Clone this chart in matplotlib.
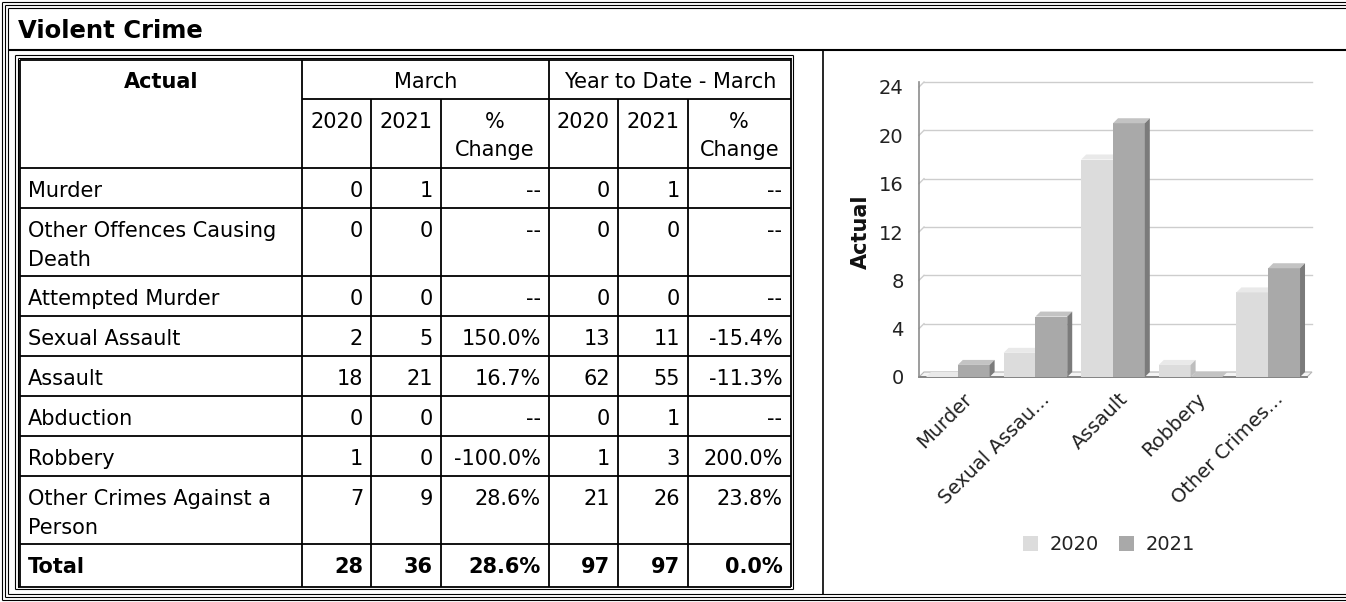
import numpy as np
import matplotlib.pyplot as plt
from matplotlib.patches import Polygon, Patch
from matplotlib.transforms import ScaledTranslation

plt.rcParams['font.family'] = ['DejaVu Sans']

# ---- data ----
title = "Violent Crime"
offences = ["Murder", "Other Offences Causing\nDeath", "Attempted Murder", "Sexual Assault",
            "Assault", "Abduction", "Robbery", "Other Crimes Against a\nPerson"]
march_2020 = [0, 0, 0, 2, 18, 0, 1, 7]
march_2021 = [1, 0, 0, 5, 21, 0, 0, 9]
march_change = ["--", "--", "--", "150.0%", "16.7%", "--", "-100.0%", "28.6%"]
ytd_2020 = [0, 0, 0, 13, 62, 0, 1, 21]
ytd_2021 = [1, 0, 0, 11, 55, 1, 3, 26]
ytd_change = ["--", "--", "--", "-15.4%", "-11.3%", "--", "200.0%", "23.8%"]
total_change = ["28.6%", "0.0%"]

chart_labels = ["Murder", "Sexual Assau...", "Assault", "Robbery", "Other Crimes..."]
chart_2020 = [0, 2, 18, 1, 7]
chart_2021 = [1, 5, 21, 0, 9]
years = ["2020", "2021"]

# ---- figure / background layer in pixel coords ----
W, H = 1346, 602
fig = plt.figure(figsize=(W / 100, H / 100), dpi=100)
bg = fig.add_axes([0, 0, 1, 1])
bg.set_xlim(0, W)
bg.set_ylim(H, 0)
bg.axis('off')


def hline(y, x0, x1, lw=0.8, c='black'):
    bg.plot([x0, x1], [y, y], color=c, lw=lw, solid_capstyle='butt')


def vline(x, y0, y1, lw=0.8, c='black'):
    bg.plot([x, x], [y0, y1], color=c, lw=lw, solid_capstyle='butt')


# panel frame
hline(1.5, 1.5, W); hline(4.5, 4.5, W); hline(7.5, 7.5, W)
vline(1.5, 1.5, 599.5); vline(4.5, 4.5, 596.5); vline(7.5, 7.5, 593.5)
hline(50, 7.5, W, lw=1.5)
hline(593.5, 7.5, W); hline(596.5, 4.5, W); hline(599.5, 1.5, W)
vline(823, 50, 593.5, lw=1.2)
bg.text(18, 38, title, fontsize=17.5, fontweight='bold', va='baseline', ha='left')

# table frame
cols = [20, 302, 371, 441, 549, 618, 688, 790.5]
gw = 1.3
hline(55, 15, 793); hline(57.5, 17.5, 790.5); hline(60, 20, 790.5, lw=gw)
hline(589, 15, 793); hline(586.5, 17.5, 790.5, lw=gw)
vline(15, 55, 589); vline(17.5, 57.5, 586.5); vline(20, 60, 586.5, lw=gw)
vline(793, 55, 589); vline(790.5, 57.5, 586.5, lw=gw)

fs = 15
line_h = 28.5

# header
hline(99, 302, 790.5, lw=gw)
vline(302, 60, 586.5, lw=gw); vline(549, 60, 586.5, lw=gw)
for cx in [371, 441, 618, 688]:
    vline(cx, 99, 586.5, lw=gw)
bg.text((20 + 302) / 2, 60 + 27.5, "Actual", fontsize=fs, fontweight='bold', ha='center', va='baseline')
bg.text((302 + 549) / 2, 60 + 27.5, "March", fontsize=fs, ha='center', va='baseline')
bg.text((549 + 790.5) / 2, 60 + 27.5, "Year to Date - March", fontsize=fs, ha='center', va='baseline')
sub_heads = [years[0], years[1], "%\nChange", years[0], years[1], "%\nChange"]
for j, lab in enumerate(sub_heads):
    cx = (cols[j + 1] + cols[j + 2]) / 2
    for k, part in enumerate(lab.split('\n')):
        bg.text(cx, 99 + 29 + k * line_h, part, fontsize=fs, ha='center', va='baseline')

# body rows
y = 168
hline(y, 20, 790.5, lw=gw)
rows = list(zip(offences, march_2020, march_2021, march_change, ytd_2020, ytd_2021, ytd_change))
totals = ["Total", str(sum(march_2020)), str(sum(march_2021)), total_change[0],
          str(sum(ytd_2020)), str(sum(ytd_2021)), total_change[1]]
rows.append(tuple(totals))
for r, row in enumerate(rows):
    is_total = r == len(rows) - 1
    nlines = row[0].count('\n') + 1
    h = 42 if is_total else (40 if nlines == 1 else 68)
    fw = 'bold' if is_total else 'normal'
    for k, part in enumerate(row[0].split('\n')):
        bg.text(28, y + 29 + k * line_h, part, fontsize=fs, fontweight=fw, ha='left', va='baseline')
    for j, val in enumerate(row[1:]):
        bg.text(cols[j + 2] - 8, y + 29, str(val), fontsize=fs, fontweight=fw, ha='right', va='baseline')
    y += h
    if not is_total:
        hline(y, 20, 790.5, lw=gw)

# ---- chart ----
ax = fig.add_axes([919 / W, 1 - 377 / H, 388 / W, 290 / H])
ax.set_xlim(-0.5, 4.5)
ax.set_ylim(0, 24)
ax.patch.set_visible(False)
for s in ax.spines.values():
    s.set_visible(False)
x = np.arange(len(chart_labels))
yt = np.arange(0, 25, 4)
ax.set_yticks(yt)
ax.tick_params(axis='both', length=0, labelsize=14, labelcolor='#222222')
ax.tick_params(axis='y', pad=11)
ax.tick_params(axis='x', pad=9)
ax.set_xticks(x)
ax.set_xticklabels(chart_labels, rotation=45, ha='right', va='top', rotation_mode='anchor')
for lab in ax.get_xticklabels():
    lab.set_transform(lab.get_transform() + ScaledTranslation(0.05, 0, fig.dpi_scale_trans))
ax.set_ylabel('Actual', fontsize=15, fontweight='bold', color='#111111')
ax.yaxis.set_label_coords(-0.125, 0.5)

# depth of the 3d effect, 5 px each way
p0 = ax.transData.transform((0, 0))
p1 = ax.transData.transform((1, 1))
dx = 5 / (p1[0] - p0[0])
dy = 5 / (p1[1] - p0[1])

for v in yt[1:]:
    ax.plot([-0.5 + dx, 4.5 + dx], [v + dy, v + dy], color='#cdcdcd', lw=1, zorder=1, clip_on=False)
    ax.plot([-0.5, -0.5 + dx], [v, v + dy], color='#cdcdcd', lw=1, zorder=1, clip_on=False)
ax.add_patch(Polygon([(-0.5, 0), (4.5, 0), (4.5 + dx, dy), (-0.5 + dx, dy)], closed=True,
                     fc='#f4f4f4', ec='#b5b5b5', lw=0.8, zorder=1.5, clip_on=False))
ax.plot([-0.5, 4.5], [0, 0], color='#7d7d7d', lw=1.3, zorder=2, clip_on=False)
ax.plot([-0.5, -0.5], [0, 24 + dy], color='#8c8c8c', lw=1.2, zorder=2, clip_on=False)

w = 0.41
series = [(chart_2020, -w / 2, ('#dcdcdc', '#e9e9e9', '#bdbdbd')),
          (chart_2021, w / 2, ('#a9a9a9', '#c3c3c3', '#7b7b7b'))]
z = 3
for i in range(len(chart_labels)):
    for vals, off, (front, top, side) in series:
        v = vals[i]
        xc = x[i] + off
        l, r = xc - w / 2, xc + w / 2
        ax.bar(xc, v, w, color=front, zorder=z, clip_on=False)
        ax.add_patch(Polygon([(l, v), (r, v), (r + dx, v + dy), (l + dx, v + dy)], closed=True,
                             fc=top, ec='none', zorder=z, clip_on=False))
        ax.add_patch(Polygon([(r, 0), (r + dx, dy), (r + dx, v + dy), (r, v)], closed=True,
                             fc=side, ec='none', zorder=z, clip_on=False))
        z += 1

handles = [Patch(fc=series[0][2][0], ec='none'), Patch(fc=series[1][2][0], ec='none')]
leg = ax.legend(handles, years, loc='center', bbox_to_anchor=(1109 / W, 1 - 545 / H),
                bbox_transform=fig.transFigure, ncol=2, frameon=False, fontsize=14,
                handlelength=0.8, handleheight=0.8, handletextpad=0.6, columnspacing=1.0)
for t in leg.get_texts():
    t.set_color('#222222')

fig.savefig('out.png', dpi=100)
